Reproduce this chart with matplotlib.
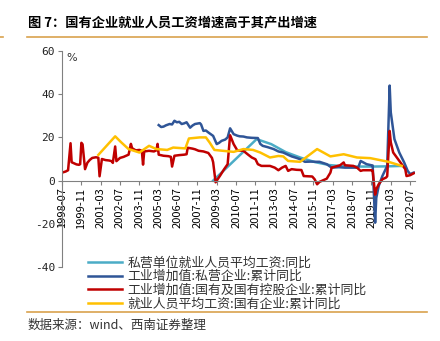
import matplotlib
matplotlib.use('Agg')
import matplotlib.pyplot as plt
from matplotlib.lines import Line2D
import pandas as pd

plt.rcParams['font.family'] = ['Noto Sans CJK SC', 'DejaVu Sans']
plt.rcParams['axes.unicode_minus'] = False

# 工业增加值:国有及国有控股企业:累计同比
red_dates = ['1998-07', '1998-10', '1998-12', '1999-02', '1999-03', '1999-05', '1999-07', '1999-09',
             '1999-10', '1999-11', '1999-12', '2000-02', '2000-04', '2000-06', '2000-08', '2000-11',
             '2001-01', '2001-02', '2001-04', '2001-07', '2001-10', '2001-12', '2002-01', '2002-03',
             '2002-04', '2002-07', '2002-10', '2002-12', '2003-02', '2003-04', '2003-05', '2003-08',
             '2003-11', '2004-01', '2004-02', '2004-03', '2004-07', '2004-11', '2005-01', '2005-02',
             '2005-03', '2005-07', '2005-11', '2006-01', '2006-02', '2006-04', '2006-08', '2006-12',
             '2007-02', '2007-03', '2007-07', '2007-09', '2007-12', '2008-04', '2008-08', '2008-11',
             '2008-12', '2009-02', '2009-06', '2009-09', '2009-12', '2010-02', '2010-05', '2010-08',
             '2011-01', '2011-05', '2011-08', '2011-11', '2012-01', '2012-04', '2012-11', '2013-03',
             '2013-06', '2013-09', '2013-12', '2014-02', '2014-05', '2014-09', '2015-01', '2015-03',
             '2015-10', '2015-12', '2016-02', '2016-04', '2016-10', '2017-01', '2017-02', '2017-09',
             '2017-12', '2018-01', '2018-08', '2018-11', '2019-02', '2019-04', '2019-11', '2019-12',
             '2020-02', '2020-03', '2020-05', '2020-08', '2020-11', '2020-12', '2021-02', '2021-03',
             '2021-05', '2021-09', '2021-12', '2022-03', '2022-04', '2022-07', '2022-10']
red_vals = [3.7, 4.2, 4.8, 17.3, 8.5, 8.0, 7.5, 7.3,
            7.6, 17.5, 16.8, 5.3, 8.3, 9.6, 10.5, 10.8,
            10.6, 2.0, 10.0, 9.5, 9.3, 9.0, 8.2, 15.8,
            9.0, 10.5, 11.0, 11.5, 12.0, 17.0, 15.0, 14.0,
            14.2, 13.8, 7.4, 13.5, 13.8, 13.5, 14.0, 17.0,
            12.0, 11.5, 11.3, 11.0, 6.5, 11.5, 11.8, 12.0,
            12.2, 15.2, 14.8, 14.5, 13.8, 13.5, 12.8, 10.5,
            8.5, -0.8, 2.5, 5.2, 7.6, 21.0, 16.9, 14.0,
            13.8, 12.0, 10.7, 9.9, 7.6, 6.8, 6.8, 6.0,
            4.8, 6.0, 6.8, 4.5, 5.3, 5.0, 4.9, 2.1,
            1.9, 0.6, -1.7, -0.6, 0.9, 3.7, 6.0, 7.1,
            8.4, 7.1, 6.8, 6.0, 4.5, 4.8, 4.8, 4.6,
            -6.5, -4.0, -1.7, 0.6, 1.4, 2.0, 23.0, 17.7,
            13.0, 9.9, 7.6, 5.3, 2.1, 2.5, 3.4]

# 工业增加值:私营企业:累计同比
blue_dates = ['2005-03', '2005-05', '2005-07', '2005-09', '2005-12', '2006-02', '2006-04', '2006-06',
              '2006-08', '2006-10', '2006-12', '2007-02', '2007-05', '2007-07', '2007-09', '2007-11',
              '2008-01', '2008-02', '2008-04', '2008-06', '2008-08', '2008-10', '2008-12', '2009-03',
              '2009-05', '2009-07', '2009-10', '2009-12', '2010-02', '2010-05', '2010-08', '2010-10',
              '2011-01', '2011-04', '2011-08', '2012-01', '2012-03', '2012-05', '2012-09', '2013-02',
              '2013-06', '2013-10', '2014-01', '2014-05', '2014-09', '2014-12', '2015-04', '2015-09',
              '2016-01', '2016-04', '2016-10', '2017-02', '2017-08', '2018-01', '2018-05', '2018-12',
              '2019-02', '2019-07', '2019-11', '2019-12', '2020-02', '2020-03', '2020-05', '2020-08',
              '2020-12', '2021-02', '2021-03', '2021-06', '2021-10', '2022-02', '2022-05', '2022-07',
              '2022-10']
blue_vals = [25.7, 24.8, 25.0, 25.6, 26.2, 26.0, 27.7, 27.0,
             27.2, 26.2, 26.5, 27.0, 24.5, 25.5, 26.2, 26.4,
             26.6, 26.0, 23.0, 23.2, 22.3, 21.5, 20.7, 16.9,
             17.5, 18.4, 19.0, 20.0, 24.2, 21.5, 20.8, 20.5,
             20.4, 20.0, 19.8, 19.7, 17.0, 16.1, 15.5, 14.6,
             13.5, 13.0, 12.2, 11.2, 10.5, 9.9, 8.7, 8.8,
             8.7, 8.7, 7.6, 6.0, 6.2, 6.0, 6.0, 6.0,
             9.1, 7.6, 7.1, 7.0, -19.5, -8.0, -2.5, 2.1,
             6.8, 44.0, 31.6, 19.2, 13.0, 8.4, 4.5, 3.0,
             3.7]

# 私营单位就业人员平均工资:同比
cyan_dates = ['2008-12', '2011-12', '2012-12', '2013-12', '2014-12', '2015-12', '2016-12',
              '2017-12', '2018-12', '2019-12', '2020-12', '2021-12']
cyan_vals = [0.0, 19.2, 16.9, 13.2, 10.7, 8.6, 7.2, 6.6, 6.5, 6.5, 6.6, 6.8]

# 就业人员平均工资:国有企业:累计同比
yellow_dates = ['2001-01', '2002-03', '2002-08', '2003-02', '2003-11', '2004-07', '2005-01', '2005-10',
                '2006-03', '2007-01', '2007-04', '2008-01', '2008-06', '2008-09', '2009-01', '2009-08',
                '2010-05', '2011-01', '2011-09', '2012-03', '2012-11', '2013-06', '2013-10', '2014-02',
                '2014-12', '2016-02', '2017-01', '2017-12', '2018-11', '2019-10', '2021-01', '2021-12']
yellow_vals = [11.9, 20.5, 17.7, 14.6, 13.0, 16.1, 14.6, 14.2,
               15.3, 14.9, 19.5, 20.0, 20.0, 17.7, 14.2, 13.8,
               13.3, 14.6, 14.2, 13.0, 10.7, 11.4, 11.2, 9.1,
               8.7, 14.6, 11.2, 12.2, 10.7, 10.4, 8.7, 6.8]

tick_labels = ['1998-07', '1999-11', '2001-03', '2002-07', '2003-11', '2005-03', '2006-07',
               '2007-11', '2009-03', '2010-07', '2011-11', '2013-03', '2014-07', '2015-11',
               '2017-03', '2018-07', '2019-11', '2021-03', '2022-07']

names = ['私营单位就业人员平均工资:同比',
         '工业增加值:私营企业:累计同比',
         '工业增加值:国有及国有控股企业:累计同比',
         '就业人员平均工资:国有企业:累计同比']
colors = ['#4BACC6', '#2F5597', '#C00000', '#FFC000']

fig = plt.figure(figsize=(4.4, 3.41), dpi=100)
ax = fig.add_axes([62/440, 1-267/341, (415-62)/440, (267-51)/341])

series = [(cyan_dates, cyan_vals), (blue_dates, blue_vals),
          (red_dates, red_vals), (yellow_dates, yellow_vals)]
handles = []
for (d, v), c, nm in zip(series, colors, names):
    ln, = ax.plot(pd.to_datetime(d), v, color=c, lw=1.8, label=nm)
    handles.append(ln)

ax.set_xlim(pd.Timestamp('1998-07-01'), pd.Timestamp('2022-11-01'))
ax.set_ylim(-40, 60)
ax.set_yticks([-40, -20, 0, 20, 40, 60])
ax.set_xticks(pd.to_datetime(tick_labels))
ax.set_xticklabels(tick_labels)
ax.tick_params(axis='y', labelsize=8, length=3, color='#808080', pad=2)
ax.tick_params(axis='x', labelsize=8, length=3, color='#808080', pad=2, labelrotation=90)
for lab in ax.get_xticklabels() + ax.get_yticklabels():
    lab.set_family('DejaVu Sans Mono')
    lab.set_color('#222222')

for s in ['top', 'right']:
    ax.spines[s].set_visible(False)
ax.spines['left'].set_color('#808080')
ax.spines['bottom'].set_color('#808080')
ax.spines['bottom'].set_position(('data', 0))

ax.text(0.012, 0.99, '%', transform=ax.transAxes, fontsize=8, va='top', ha='left',
        family='DejaVu Sans', color='#333333')

fig.text(28/440, 1-22/341, '图 7：国有企业就业人员工资增速高于其产出增速',
         fontsize=9.5, fontweight='bold', va='center', ha='left')
fig.add_artist(Line2D([27/440, 427/440], [1-37/341, 1-37/341], color='#D9A24E', lw=1.2))
fig.add_artist(Line2D([0, 3/440], [1-37/341, 1-37/341], color='#D9A24E', lw=1.2))
fig.add_artist(Line2D([27/440, 427/440], [1-312/341, 1-312/341], color='#D9A24E', lw=1.2))

leg = fig.legend(handles=handles, labels=names, loc='upper left',
                 bbox_to_anchor=(82/440, 1-250/341), frameon=False, fontsize=9.3,
                 handlelength=2.6, labelspacing=0.05, handletextpad=0.4, borderpad=0)
for t in leg.get_texts():
    t.set_color('#333333')

fig.text(28/440, 1-325/341, '数据来源：wind、西南证券整理', fontsize=9, style='italic',
         va='center', ha='left', color='#333333')

fig.savefig('out.png', dpi=100)
